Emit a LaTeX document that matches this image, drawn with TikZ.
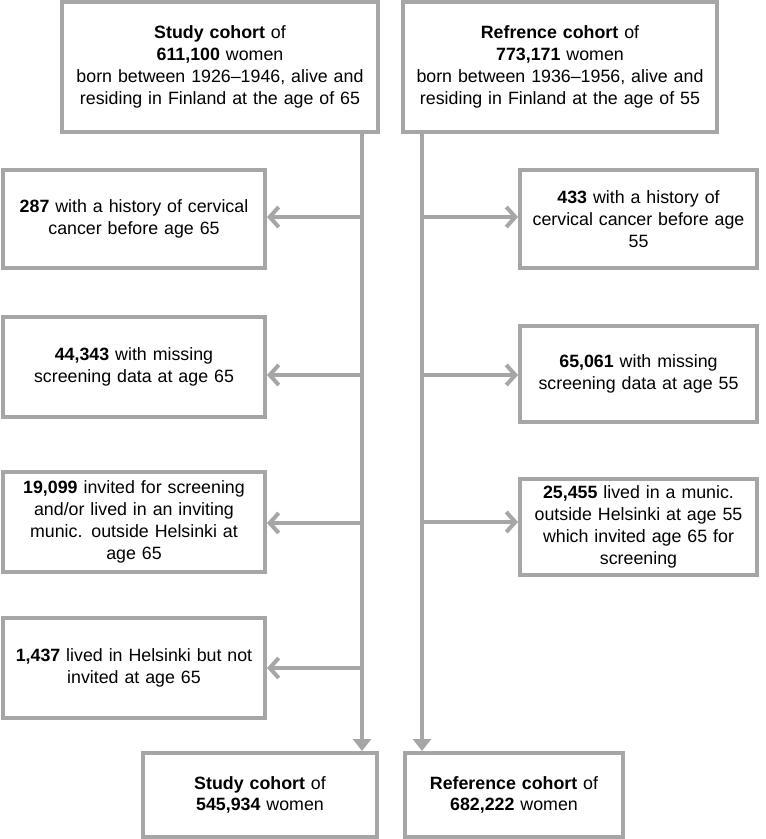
\documentclass[tikz,border=0pt]{standalone}
\usepackage{fontspec}
\setmainfont{Liberation Sans}
\usetikzlibrary{arrows.meta}
\definecolor{boxgray}{HTML}{A6A6A6}

\begin{document}
\begin{tikzpicture}[x=1pt, y=-1pt, font=\fontsize{17.8}{21.8}\selectfont,
    block/.style={rectangle, draw=boxgray, line width=4pt, fill=white, inner sep=0pt, align=center},
    sidearrow/.style={draw=boxgray, line width=4pt, -{Straight Barb[length=9pt, width=20pt]}},
    downarrow/.style={draw=boxgray, line width=4pt, -{Triangle[length=12pt, width=18pt]}}]
    \useasboundingbox (0,0) rectangle (766,839);

    % cohorts at the start
    \node[block, minimum width=316pt, minimum height=130pt, text width=306pt] (studytop) at (220,67)
        {\textbf{Study cohort} of\\\textbf{611,100} women\\born between 1926--1946, alive and\\residing in Finland at the age of 65};
    \node[block, minimum width=314pt, minimum height=130pt, text width=306pt] (reftop) at (560,67)
        {\textbf{Refrence cohort} of\\\textbf{773,171} women\\born between 1936--1956, alive and\\residing in Finland at the age of 55};

    % cohorts at the end
    \node[block, minimum width=234pt, minimum height=84pt, text width=220pt] (studyend) at (260,795)
        {\textbf{Study cohort} of\\\textbf{545,934} women};
    \node[block, minimum width=218pt, minimum height=84pt, text width=210pt] (refend) at (514,795)
        {\textbf{Reference cohort} of\\\textbf{682,222} women};

    % exclusions, study cohort
    \node[block, minimum width=262pt, minimum height=98pt, text width=254pt] (sexcl1) at (134,219)
        {\textbf{287} with a history of cervical\\cancer before age 65};
    \node[block, minimum width=262pt, minimum height=100pt, text width=254pt] (sexcl2) at (134,367)
        {\textbf{44,343} with missing\\screening data at age 65};
    \node[block, minimum width=262pt, minimum height=100pt, text width=254pt] (sexcl3) at (134,522)
        {\textbf{19,099} invited for screening\\and/or lived in an inviting\\munic. outside Helsinki at\\age 65};
    \node[block, minimum width=262pt, minimum height=100pt, text width=254pt] (sexcl4) at (134,668)
        {\textbf{1,437} lived in Helsinki but not\\invited at age 65};

    % exclusions, reference cohort
    \node[block, minimum width=237pt, minimum height=98pt, text width=230pt] (rexcl1) at (638.5,219)
        {\textbf{433} with a history of\\cervical cancer before age\\55};
    \node[block, minimum width=237pt, minimum height=96pt, text width=230pt] (rexcl2) at (638.5,374)
        {\textbf{65,061} with missing\\screening data at age 55};
    \node[block, minimum width=237pt, minimum height=96pt, text width=230pt] (rexcl3) at (638.5,527)
        {\textbf{25,455} lived in a munic.\\outside Helsinki at age 55\\which invited age 65 for\\screening};

    % trunks
    \coordinate (strunk) at (362,0);
    \coordinate (rtrunk) at (422,0);
    \draw[downarrow] (studytop.south -| strunk) -- (studyend.north -| strunk);
    \draw[downarrow] (reftop.south -| rtrunk) -- (refend.north -| rtrunk);

    % side arrows
    \coordinate (s1) at (362,217);
    \coordinate (s2) at (362,375);
    \coordinate (s3) at (362,523);
    \coordinate (s4) at (362,668);
    \coordinate (r1) at (422,217);
    \coordinate (r2) at (422,375);
    \coordinate (r3) at (422,522);
    \draw[sidearrow] (s1) -- (s1 -| sexcl1.east);
    \draw[sidearrow] (s2) -- (s2 -| sexcl2.east);
    \draw[sidearrow] (s3) -- (s3 -| sexcl3.east);
    \draw[sidearrow] (s4) -- (s4 -| sexcl4.east);
    \draw[sidearrow] (r1) -- (r1 -| rexcl1.west);
    \draw[sidearrow] (r2) -- (r2 -| rexcl2.west);
    \draw[sidearrow] (r3) -- (r3 -| rexcl3.west);
\end{tikzpicture}
\end{document}
